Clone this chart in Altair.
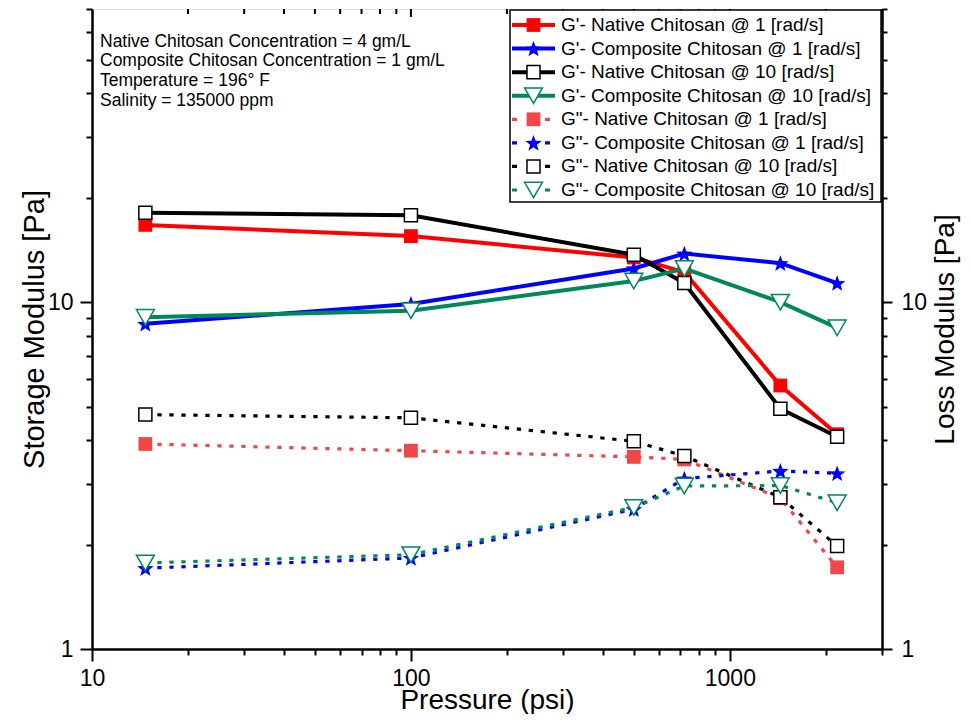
import math
import altair as alt
import pandas as pd

# ---------------- data ----------------
pressure = [14.7, 100, 500, 720, 1440, 2170]

gp_native_1 = [16.7, 15.5, 13.45, 12.2, 5.75, 4.16]
gp_comp_1 = [8.66, 9.88, 12.5, 13.8, 12.95, 11.35]
gp_native_10 = [18.1, 17.8, 13.7, 11.35, 4.93, 4.09]
gp_comp_10 = [9.04, 9.45, 11.5, 12.5, 10.0, 8.43]
gpp_native_1 = [3.90, 3.73, 3.58, 3.52, 2.72, 1.72]
gpp_comp_1 = [1.71, 1.83, 2.53, 3.10, 3.26, 3.21]
gpp_native_10 = [4.74, 4.64, 3.97, 3.60, 2.74, 1.98]
gpp_comp_10 = [1.77, 1.87, 2.56, 2.95, 2.96, 2.64]

series_labels = [
    "G'- Native Chitosan @ 1 [rad/s]",
    "G'- Composite Chitosan @ 1 [rad/s]",
    "G'- Native Chitosan @ 10 [rad/s]",
    "G'- Composite Chitosan @ 10 [rad/s]",
    'G"- Native Chitosan @ 1 [rad/s]',
    'G"- Composite Chitosan @ 1 [rad/s]',
    'G"- Native Chitosan @ 10 [rad/s]',
    'G"- Composite Chitosan @ 10 [rad/s]',
]
series_values = [gp_native_1, gp_comp_1, gp_native_10, gp_comp_10,
                 gpp_native_1, gpp_comp_1, gpp_native_10, gpp_comp_10]

x_tick_values = [10, 20, 30, 40, 50, 60, 70, 80, 90,
                 100, 200, 300, 400, 500, 600, 700, 800, 900,
                 1000, 2000, 3000]
y_tick_values = [1, 2, 3, 4, 5, 6, 7, 8, 9, 10, 20, 30, 40, 50, 60, 70]
top_major_ticks = [100, 1000]
top_minor_ticks = [20, 30, 40, 50, 60, 70, 80, 90,
                   200, 300, 400, 500, 600, 700, 800, 900, 2000, 3000]

notes = [
    "Native Chitosan Concentration = 4 gm/L",
    "Composite Chitosan Concentration = 1 gm/L",
    "Temperature = 196\u00b0 F",
    "Salinity  = 135000 ppm",
]

# ---------------- styles ----------------
FONT = "Liberation Sans"
GREEN = "#00875A"
series_colors = ["#FF0000", "#0000FF", "#000000", GREEN,
                 "#F04848", "#0000FF", "#000000", GREEN]

star_pts = []
for k in range(10):
    r = 1.0 if k % 2 == 0 else 0.42
    a = math.radians(-90 + 36 * k)
    star_pts.append((r * math.cos(a), r * math.sin(a) + 0.09))
STAR = "M" + " L".join(f"{px:.4f},{py:.4f}" for px, py in star_pts) + " Z"

series_shapes = ["square", STAR, "square", "triangle-down",
                 "square", STAR, "square", "triangle-down"]
series_sizes = [190, 300, 170, 320, 190, 300, 170, 320]
series_open = [False, False, True, True, False, False, True, True]

x_scale = alt.Scale(type="log", domain=[10, 3000], nice=False)
y_scale = alt.Scale(type="log", domain=[1, 70], nice=False)

x_major = "datum.value == 10 || datum.value == 100 || datum.value == 1000"
y_major = "datum.value == 1 || datum.value == 10"

common_axis = dict(
    grid=False, labelFlush=False, labelOverlap=False,
    labelFontSize=23, labelFont=FONT, titleFont=FONT,
    titleFontWeight="normal", labelColor="black", titleColor="black",
    domainColor="black", domainWidth=2.5, tickColor="black", tickWidth=2,
)

x_axis = alt.Axis(
    values=x_tick_values,
    labelExpr=f"({x_major}) ? toString(datum.value) : ''",
    tickSize={"condition": {"test": x_major, "value": 12}, "value": 6},
    title="Pressure (psi)", titleFontSize=28, labelPadding=6, titlePadding=-3.5,
    **common_axis,
)
y_axis_left = alt.Axis(
    values=y_tick_values,
    labelExpr=f"({y_major}) ? toString(datum.value) : ''",
    tickSize={"condition": {"test": y_major, "value": 12}, "value": 6},
    title="Storage Modulus [Pa]", titleFontSize=29, labelPadding=7, titlePadding=-2,
    **common_axis,
)
y_axis_right = alt.Axis(
    orient="right",
    values=y_tick_values,
    labelExpr=f"({y_major}) ? toString(datum.value) : ''",
    tickSize={"condition": {"test": y_major, "value": 10}, "value": 5},
    title="Loss Modulus [Pa]", titleFontSize=28, labelPadding=9, titlePadding=5,
    titleAngle=270, titleBaseline="top",
    **common_axis,
)


def series_layers(i, y_axis):
    df = pd.DataFrame({"Pressure": pressure, "Modulus": series_values[i],
                       "Series": series_labels[i]})
    c = series_colors[i]
    enc = dict(x=alt.X("Pressure:Q", scale=x_scale, axis=x_axis),
               y=alt.Y("Modulus:Q", scale=y_scale, axis=y_axis))
    if i < 4:
        line = alt.Chart(df).mark_line(color=c, strokeWidth=4).encode(**enc)
    else:
        line = alt.Chart(df).mark_line(color=c, strokeWidth=3.2,
                                       strokeDash=[4.3, 7.7]).encode(**enc)
    if series_open[i]:
        pts = alt.Chart(df).mark_point(shape=series_shapes[i], size=series_sizes[i],
                                       filled=True, fill="white", stroke=c,
                                       strokeWidth=1.5, opacity=1).encode(**enc)
    else:
        pts = alt.Chart(df).mark_point(shape=series_shapes[i], size=series_sizes[i],
                                       filled=True, fill=c, strokeWidth=0,
                                       opacity=1).encode(**enc)
    return [line, pts]


gp_layers = []
for i in range(4):
    gp_layers += series_layers(i, y_axis_left)
gpp_layers = []
for i in range(4, 8):
    gpp_layers += series_layers(i, y_axis_right)

gp_group = alt.layer(*gp_layers)
gpp_group = alt.layer(*gpp_layers)

# top-axis inward ticks (drawn through the x scale)
top_major = alt.Chart(pd.DataFrame({"t": top_major_ticks})).mark_rule(
    color="black", strokeWidth=2).encode(
    x=alt.X("t:Q", scale=x_scale, axis=x_axis), y=alt.value(0), y2=alt.value(8))
top_minor = alt.Chart(pd.DataFrame({"t": top_minor_ticks})).mark_rule(
    color="black", strokeWidth=2).encode(
    x=alt.X("t:Q", scale=x_scale, axis=x_axis), y=alt.value(0), y2=alt.value(5))

# ---------------- legend ----------------
one = pd.DataFrame({"k": [0]})
legend_box = alt.Chart(one).mark_rect(fill="white", stroke="black", strokeWidth=1.5).encode(
    x=alt.value(418), x2=alt.value(789), y=alt.value(1), y2=alt.value(193))

legend_y = alt.Y("row:Q", scale=alt.Scale(domain=[0, 7], range=[16, 181]), axis=None)
legend_layers = []
for i in range(8):
    dfl = pd.DataFrame({"row": [i], "label": [series_labels[i]]})
    c = series_colors[i]
    if i < 4:
        rule = alt.Chart(dfl).mark_rule(color=c, strokeWidth=4).encode(
            x=alt.value(420), x2=alt.value(463), y=legend_y)
    else:
        rule = alt.Chart(dfl).mark_rule(color=c, strokeWidth=3.2, strokeDash=[5, 28]).encode(
            x=alt.value(420), x2=alt.value(458), y=legend_y)
    legend_layers.append(rule)
    if series_open[i]:
        sym = alt.Chart(dfl).mark_point(shape=series_shapes[i], size=series_sizes[i],
                                        filled=True, fill="white", stroke=c,
                                        strokeWidth=1.5, opacity=1).encode(
            x=alt.value(441.5), y=legend_y)
    else:
        sym = alt.Chart(dfl).mark_point(shape=series_shapes[i], size=series_sizes[i],
                                        filled=True, fill=c, strokeWidth=0,
                                        opacity=1).encode(
            x=alt.value(441.5), y=legend_y)
    legend_layers.append(sym)

legend_text_df = pd.DataFrame({"row": list(range(8)), "label": series_labels})
legend_layers.append(
    alt.Chart(legend_text_df).mark_text(align="left", baseline="middle", font=FONT,
                                        fontSize=19, color="black").encode(
        x=alt.value(469), y=legend_y, text="label:N"))
legend_group = alt.layer(*legend_layers)

notes_text = alt.Chart(one).mark_text(
    align="left", baseline="alphabetic", font=FONT, fontSize=17.5,
    lineHeight=19.8, color="black", text=notes).encode(
    x=alt.value(8), y=alt.value(37.7))

chart = alt.layer(
    gp_group, gpp_group, top_major, top_minor, legend_box, legend_group, notes_text
).resolve_scale(y="independent").properties(
    width=790, height=640,
    autosize=alt.AutoSizeParams(type="none"),
    padding={"left": 84, "top": 1, "right": 80, "bottom": 65},
).configure_view(stroke="black", strokeWidth=2.5).configure(background="white")

chart.save("out.html", embed_options={"renderer": "svg", "actions": False})
